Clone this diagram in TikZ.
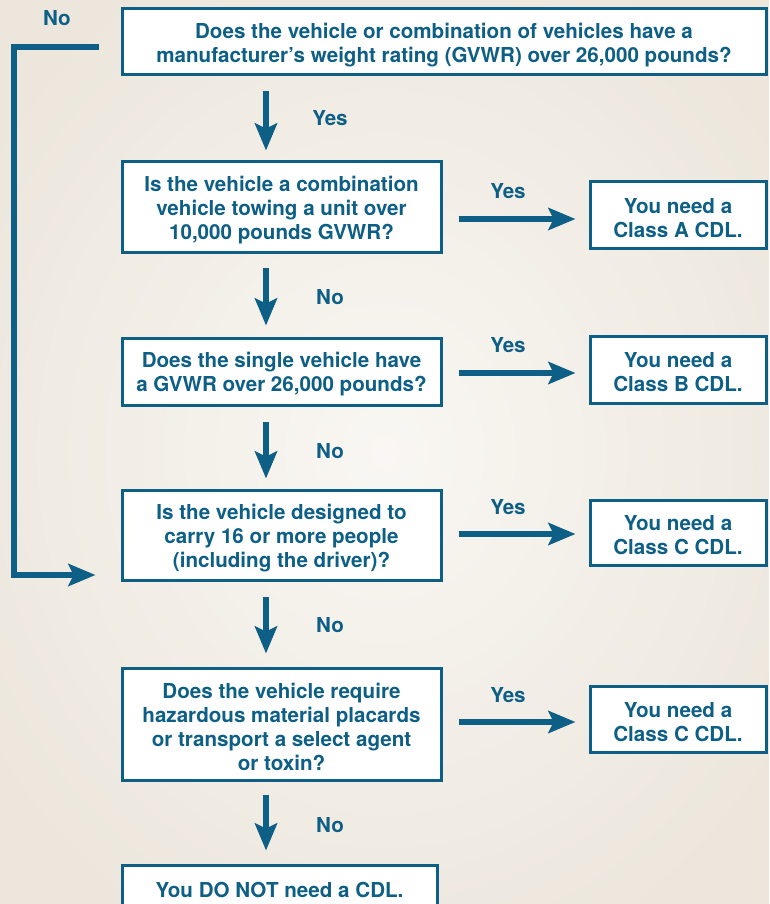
\documentclass[tikz,border=0pt]{standalone}
\usepackage{fontspec}
\setmainfont{TeX Gyre Heros}
\usetikzlibrary{arrows.meta}
\definecolor{cdlblue}{HTML}{0E5F86}
\definecolor{bgout}{HTML}{ECE6DC}
\definecolor{bgin}{HTML}{F9F7F3}
\newcommand{\toppad}{\rule{0pt}{20.5pt}}
\tikzset{
  qbox/.style={draw=cdlblue, line width=3pt, fill=white, inner sep=0pt, align=center,
     text=cdlblue, font=\fontsize{20.6}{24}\selectfont\bfseries},
  lbl/.style={text=cdlblue, inner sep=0pt, font=\fontsize{20.6}{24}\selectfont\bfseries},
  arr/.style={draw=cdlblue, line width=5.5pt, -{Stealth[length=27pt, width=22pt, inset=5pt]}},
}
\begin{document}
\begin{tikzpicture}[x=1pt,y=-1pt]
\useasboundingbox (0,0) rectangle (769,904);
\clip (0,0) rectangle (769,904);
\shade[inner color=bgin, outer color=bgout] (-100,-100) rectangle (869,1004);

\coordinate (ax) at (266,0);
\coordinate (r1) at (0,219);
\coordinate (r2) at (0,373);
\coordinate (r3) at (0,534);
\coordinate (r4) at (0,722);
\coordinate (r5) at (0,575);
\coordinate (nb) at (14,0);

\node[qbox, minimum width=644pt, minimum height=66pt] (q1) at (444,42)
  {\toppad Does the vehicle or combination of vehicles have a\\manufacturer’s weight rating (GVWR) over 26,000 pounds?};
\node[qbox, minimum width=319pt, minimum height=90pt] (q2) at (281.5,207)
  {\toppad Is the vehicle a combination\\vehicle towing a unit over\\10,000 pounds GVWR?};
\node[qbox, minimum width=176pt, minimum height=66pt] (ca) at (678,215)
  {\toppad You need a\\Class A CDL.};
\node[qbox, minimum width=319pt, minimum height=67pt] (q3) at (281.5,371.5)
  {\toppad Does the single vehicle have\\a GVWR over 26,000 pounds?};
\node[qbox, minimum width=176pt, minimum height=67pt] (cb) at (678,369.5)
  {\toppad You need a\\Class B CDL.};
\node[qbox, minimum width=319pt, minimum height=90pt] (q4) at (281.5,535)
  {\toppad Is the vehicle designed to\\carry 16 or more people\\(including the driver)?};
\node[qbox, minimum width=176pt, minimum height=65pt] (cc) at (678,532.5)
  {\toppad You need a\\Class C CDL.};
\node[qbox, minimum width=319pt, minimum height=112pt] (q5) at (281.5,724)
  {\toppad Does the vehicle require\\hazardous material placards\\or transport a select agent\\or toxin?};
\node[qbox, minimum width=176pt, minimum height=66pt] (cc2) at (678,719)
  {\toppad You need a\\Class C CDL.};
\node[qbox, minimum width=315pt, minimum height=44pt] (no) at (279.5,887)
  {\toppad You DO NOT need a CDL.};

% vertical arrows
\draw[arr, shorten <=15pt, shorten >=10pt] (q1.south -| ax) -- (q2.north -| ax);
\draw[arr, shorten <=14pt, shorten >=11pt] (q2.south -| ax) -- (q3.north -| ax);
\draw[arr, shorten <=15pt, shorten >=10pt] (q3.south -| ax) -- (q4.north -| ax);
\draw[arr, shorten <=15pt, shorten >=13pt] (q4.south -| ax) -- (q5.north -| ax);
\draw[arr, shorten <=13pt, shorten >=13pt] (q5.south -| ax) -- (no.north -| ax);

% horizontal arrows
\draw[arr, shorten <=16pt, shorten >=13pt] (q2.east |- r1) -- (ca.west |- r1);
\draw[arr, shorten <=16pt, shorten >=13pt] (q3.east |- r2) -- (cb.west |- r2);
\draw[arr, shorten <=16pt, shorten >=13pt] (q4.east |- r3) -- (cc.west |- r3);
\draw[arr, shorten <=16pt, shorten >=13pt] (q5.east |- r4) -- (cc2.west |- r4);

% No path from top
\draw[arr, shorten >=25pt] ([shift={(-22,5)}]q1.west) -| (nb |- r5) -- (q4.west |- r5);

% labels
\node[lbl] (lno0) at (57,18) {No};
\node[lbl] (ly0) at (330,118) {Yes};
\node[lbl] (ln1) at (330,297) {No};
\node[lbl] (ln2) at (330,451) {No};
\node[lbl] (ln3) at (330,625) {No};
\node[lbl] (ln4) at (330,825) {No};
\node[lbl] (ly1) at (508,191) {Yes};
\node[lbl] (ly2) at (508,345) {Yes};
\node[lbl] (ly3) at (508,507) {Yes};
\node[lbl] (ly4) at (508,695) {Yes};
\end{tikzpicture}
\end{document}
